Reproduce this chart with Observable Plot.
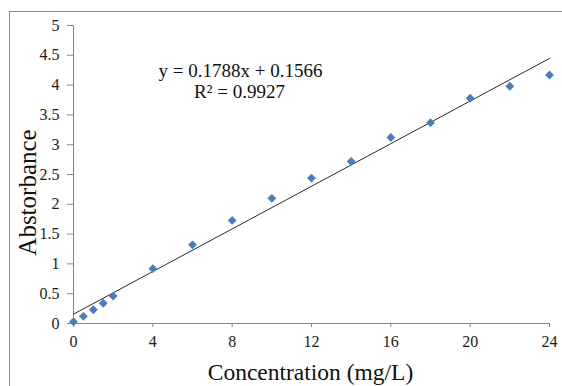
<!DOCTYPE html>
<html>
<head>
<meta charset="utf-8">
<script src="https://cdn.jsdelivr.net/npm/d3@7"></script>
<script src="https://cdn.jsdelivr.net/npm/@observablehq/plot@0.6"></script>
<style>
  html, body { margin: 0; padding: 0; background: #fff; }
  #wrap { position: relative; width: 562px; height: 386px; overflow: hidden; }
  #border { position: absolute; left: 9px; top: 11px; width: 600px; height: 400px;
            border-top: 1px solid #8c8c8c; border-left: 1px solid #8c8c8c; pointer-events: none; }
  #wrap svg, #wrap svg text { font-family: "Liberation Serif", "Times New Roman", serif !important; }
</style>
</head>
<body>
<div id="wrap"><div id="border"></div></div>
<script>
const concentration = [0, 0.5, 1, 1.5, 2, 4, 6, 8, 10, 12, 14, 16, 18, 20, 22, 24];
const absorbance = [0.03, 0.12, 0.23, 0.34, 0.46, 0.92, 1.32, 1.73, 2.10, 2.44, 2.72, 3.12, 3.37, 3.78, 3.98, 4.17];
const xTicks = [0, 4, 8, 12, 16, 20, 24];
const yTicks = [0, 0.5, 1, 1.5, 2, 2.5, 3, 3.5, 4, 4.5, 5];
const slope = 0.1788;
const intercept = 0.1566;
const equationLines = ["y = 0.1788x + 0.1566", "R² = 0.9927"];
const xTitle = "Concentration (mg/L)";
const yTitle = "Abstorbance";

const points = concentration.map((c, i) => ({x: c, y: absorbance[i]}));
const xDomain = [xTicks[0], xTicks[xTicks.length - 1]];
const trend = xDomain.map(x => ({x, y: slope * x + intercept}));

const axisColor = "#868686";
const font = "Liberation Serif";

const chart = Plot.plot({
  width: 562,
  height: 386,
  marginLeft: 73,
  marginRight: 13,
  marginTop: 25,
  marginBottom: 63,
  style: {fontFamily: font, background: "transparent", color: "#1a1a1a"},
  x: {domain: xDomain},
  y: {domain: [yTicks[0], yTicks[yTicks.length - 1]]},
  marks: [
    Plot.axisY(yTicks, {tickSize: 6, tickPadding: 8, fontSize: 16, fontFamily: font, stroke: axisColor, fill: "#1a1a1a", label: null, tickFormat: d => String(d)}),
    Plot.axisX(xTicks, {tickSize: 4, tickPadding: 8, fontSize: 16, fontFamily: font, stroke: axisColor, fill: "#1a1a1a", label: null, tickFormat: d => String(d)}),
    Plot.ruleX([xDomain[0]], {stroke: axisColor}),
    Plot.ruleY([0], {stroke: axisColor}),
    Plot.line(trend, {x: "x", y: "y", stroke: "#2b2b2b", strokeWidth: 1}),
    Plot.dot(points, {x: "x", y: "y", symbol: "diamond2", r: 4, fill: "#4a7ebb", stroke: "none"}),
    Plot.text([equationLines[0]], {text: d => d, frameAnchor: "top-left", dx: 167, dy: 38, fontSize: 19, fontFamily: font, fill: "#111", textAnchor: "middle"}),
    Plot.text([equationLines[1]], {text: d => d, frameAnchor: "top-left", dx: 166, dy: 59, fontSize: 19, fontFamily: font, fill: "#111", textAnchor: "middle"}),
    Plot.text([xTitle], {text: d => d, frameAnchor: "bottom", dy: 56, fontSize: 23.5, fontFamily: font, fill: "#111", dx: -1}),
    Plot.text([yTitle], {text: d => d, frameAnchor: "left", textAnchor: "middle", dx: -46, dy: 18, rotate: -90, fontSize: 25, fontFamily: font, fill: "#111"})
  ]
});
chart.style.position = "absolute";
chart.style.left = "0px";
chart.style.top = "0px";
document.getElementById("wrap").appendChild(chart);
</script>
</body>
</html>
